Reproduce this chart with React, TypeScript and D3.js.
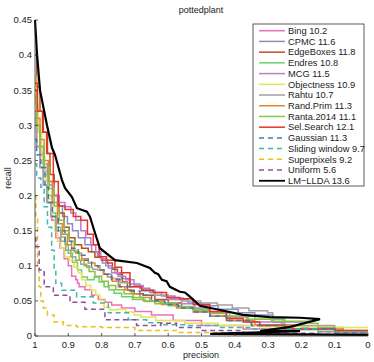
// PR curves for the pottedplant class
import React from "react";
import { scaleLinear, line, curveStep, curveLinear } from "d3";

const width = 374;
const height = 362;
const margin = { top: 20, bottom: 26, left: 35, right: 6 };

const methods = [
    "Bing 10.2",
    "CPMC 11.6",
    "EdgeBoxes 11.8",
    "Endres 10.8",
    "MCG 11.5",
    "Objectness 10.9",
    "Rahtu 10.7",
    "Rand.Prim 11.3",
    "Ranta.2014 11.1",
    "Sel.Search 12.1",
    "Gaussian 11.3",
    "Sliding window 9.7",
    "Superpixels 9.2",
    "Uniform 5.6",
    "LM\u2212LLDA 13.6",
];
const colors = [
    "#ee6fb6", "#8e8cc6", "#b4541e", "#6fcf64", "#c27ad2",
    "#e4e45a", "#a2a2a2", "#e8862c", "#8fc043", "#e8332b",
    "#3b7bb5", "#3fb9a8", "#e6c21b", "#8d4f9e", "#000000",
];
const dashed = [false, false, false, false, false, false, false, false, false, false, true, true, true, true, false];

const bingP = [1, 0.99, 0.98, 0.97, 0.955, 0.945, 0.93, 0.92, 0.905, 0.895, 0.885, 0.87, 0.875, 0.86, 0.84, 0.82, 0.8, 0.78, 0.76, 0.72, 0.68, 0.62, 0.55, 0.45, 0.3, 0];
const bingR = [0.31, 0.27, 0.24, 0.215, 0.19, 0.165, 0.14, 0.125, 0.11, 0.1, 0.085, 0.08, 0.075, 0.07, 0.066, 0.058, 0.052, 0.048, 0.044, 0.04, 0.035, 0.03, 0.022, 0.015, 0.01, 0.006];
const cpmcP = [1, 0.99, 0.98, 0.97, 0.955, 0.94, 0.925, 0.91, 0.895, 0.88, 0.86, 0.84, 0.82, 0.805, 0.79, 0.77, 0.75, 0.73, 0.7, 0.67, 0.64, 0.6, 0.56, 0.52, 0.48, 0.42, 0.36, 0.32, 0.25, 0.15, 0];
const cpmcR = [0.33, 0.3, 0.27, 0.245, 0.22, 0.2, 0.185, 0.17, 0.16, 0.15, 0.14, 0.13, 0.12, 0.112, 0.104, 0.097, 0.09, 0.082, 0.074, 0.068, 0.062, 0.057, 0.052, 0.047, 0.043, 0.038, 0.033, 0.03, 0.02, 0.012, 0.006];
const edgeP = [1, 0.99, 0.98, 0.97, 0.96, 0.95, 0.935, 0.92, 0.905, 0.89, 0.87, 0.85, 0.83, 0.81, 0.79, 0.775, 0.76, 0.745, 0.73, 0.715, 0.69, 0.66, 0.62, 0.58, 0.54, 0.5, 0.45, 0.4, 0.3, 0.2, 0];
const edgeR = [0.4, 0.355, 0.32, 0.29, 0.26, 0.23, 0.2, 0.175, 0.155, 0.14, 0.13, 0.125, 0.12, 0.112, 0.108, 0.104, 0.095, 0.088, 0.077, 0.065, 0.06, 0.058, 0.052, 0.047, 0.04, 0.035, 0.028, 0.022, 0.015, 0.01, 0.004];
const endresP = [1, 0.99, 0.98, 0.97, 0.955, 0.945, 0.93, 0.915, 0.905, 0.895, 0.88, 0.865, 0.855, 0.83, 0.815, 0.8, 0.785, 0.77, 0.755, 0.725, 0.69, 0.65, 0.6, 0.55, 0.5, 0.45, 0.38, 0.3, 0.21, 0.3, 0.15, 0];
const endresR = [0.33, 0.29, 0.26, 0.23, 0.2, 0.175, 0.155, 0.141, 0.13, 0.118, 0.105, 0.094, 0.084, 0.08, 0.084, 0.077, 0.07, 0.066, 0.061, 0.056, 0.052, 0.049, 0.047, 0.042, 0.038, 0.033, 0.028, 0.024, 0.02, 0.015, 0.009, 0.005];
const mcgP = [1, 0.99, 0.98, 0.965, 0.95, 0.935, 0.92, 0.9, 0.885, 0.87, 0.855, 0.84, 0.825, 0.81, 0.795, 0.78, 0.76, 0.74, 0.715, 0.69, 0.66, 0.62, 0.58, 0.54, 0.5, 0.45, 0.4, 0.32, 0.2, 0];
const mcgR = [0.32, 0.29, 0.26, 0.235, 0.215, 0.2, 0.19, 0.184, 0.175, 0.165, 0.15, 0.14, 0.13, 0.12, 0.11, 0.1, 0.09, 0.085, 0.08, 0.072, 0.065, 0.058, 0.052, 0.046, 0.04, 0.034, 0.027, 0.02, 0.01, 0.004];
const objP = [1, 0.995, 0.985, 0.975, 0.965, 0.955, 0.945, 0.935, 0.93, 0.915, 0.905, 0.89, 0.875, 0.865, 0.855, 0.84, 0.825, 0.81, 0.8, 0.785, 0.765, 0.74, 0.715, 0.69, 0.675, 0.6, 0.5, 0.4, 0.25, 0.1, 0];
const objR = [0.37, 0.33, 0.29, 0.255, 0.225, 0.195, 0.17, 0.15, 0.135, 0.125, 0.113, 0.108, 0.098, 0.09, 0.08, 0.072, 0.065, 0.058, 0.051, 0.041, 0.037, 0.038, 0.034, 0.03, 0.027, 0.022, 0.018, 0.015, 0.013, 0.012, 0.012];
const rahtuP = [1, 0.99, 0.98, 0.97, 0.96, 0.945, 0.93, 0.915, 0.9, 0.885, 0.87, 0.855, 0.835, 0.82, 0.805, 0.78, 0.76, 0.73, 0.7, 0.66, 0.62, 0.58, 0.53, 0.475, 0.43, 0.385, 0.33, 0.273, 0.3, 0.2, 0];
const rahtuR = [0.3, 0.27, 0.24, 0.215, 0.19, 0.17, 0.15, 0.135, 0.122, 0.113, 0.108, 0.102, 0.098, 0.095, 0.094, 0.088, 0.082, 0.076, 0.07, 0.064, 0.058, 0.054, 0.05, 0.047, 0.044, 0.04, 0.036, 0.033, 0.025, 0.015, 0.008];
const primP = [1, 0.99, 0.98, 0.965, 0.955, 0.94, 0.925, 0.91, 0.895, 0.885, 0.87, 0.85, 0.83, 0.81, 0.8, 0.79, 0.775, 0.76, 0.74, 0.72, 0.7, 0.67, 0.64, 0.6, 0.55, 0.5, 0.45, 0.38, 0.3, 0.15, 0];
const primR = [0.35, 0.31, 0.28, 0.25, 0.22, 0.19, 0.16, 0.145, 0.13, 0.122, 0.118, 0.11, 0.104, 0.1, 0.094, 0.088, 0.084, 0.078, 0.07, 0.066, 0.06, 0.055, 0.05, 0.045, 0.04, 0.034, 0.028, 0.022, 0.016, 0.01, 0.007];
const rantaP = [1, 0.99, 0.98, 0.965, 0.95, 0.935, 0.92, 0.905, 0.89, 0.875, 0.86, 0.845, 0.83, 0.81, 0.79, 0.77, 0.745, 0.72, 0.69, 0.66, 0.62, 0.58, 0.54, 0.5, 0.45, 0.4, 0.33, 0.25, 0.1, 0.2, 0];
const rantaR = [0.34, 0.3, 0.27, 0.24, 0.21, 0.185, 0.165, 0.15, 0.135, 0.12, 0.108, 0.1, 0.092, 0.085, 0.078, 0.072, 0.066, 0.06, 0.055, 0.05, 0.046, 0.043, 0.04, 0.036, 0.032, 0.028, 0.024, 0.021, 0.018, 0.012, 0.006];
const selP = [1, 0.985, 0.97, 0.955, 0.935, 0.925, 0.895, 0.875, 0.85, 0.835, 0.815, 0.8, 0.77, 0.75, 0.73, 0.7, 0.66, 0.63, 0.58, 0.55, 0.5, 0.45, 0.4, 0.35, 0.3, 0.2, 0];
const selR = [0.36, 0.32, 0.29, 0.26, 0.22, 0.185, 0.18, 0.17, 0.165, 0.145, 0.13, 0.113, 0.108, 0.098, 0.09, 0.07, 0.065, 0.062, 0.055, 0.053, 0.045, 0.035, 0.025, 0.02, 0.015, 0.01, 0.008];
const gaussP = [1, 0.99, 0.975, 0.965, 0.955, 0.94, 0.92, 0.9, 0.88, 0.86, 0.84, 0.82, 0.8, 0.78, 0.76, 0.73, 0.7, 0.67, 0.63, 0.59, 0.55, 0.5, 0.45, 0.4, 0.3, 0.2, 0];
const gaussR = [0.28, 0.258, 0.24, 0.212, 0.19, 0.17, 0.15, 0.135, 0.125, 0.115, 0.108, 0.1, 0.094, 0.088, 0.08, 0.07, 0.064, 0.058, 0.05, 0.045, 0.04, 0.034, 0.028, 0.022, 0.015, 0.01, 0.005];
const slideP = [1, 0.99, 0.975, 0.97, 0.955, 0.945, 0.94, 0.935, 0.905, 0.845, 0.805, 0.755, 0.685, 0.645, 0.59, 0.5, 0.4, 0.3, 0];
const slideR = [0.245, 0.225, 0.212, 0.184, 0.155, 0.122, 0.094, 0.075, 0.065, 0.056, 0.047, 0.033, 0.023, 0.019, 0.016, 0.015, 0.012, 0.01, 0.006];
const superP = [1, 0.995, 0.99, 0.985, 0.98, 0.97, 0.955, 0.93, 0.9, 0.85, 0.75, 0.65, 0.5, 0.3, 0];
const superR = [0.2, 0.17, 0.1, 0.07, 0.05, 0.04, 0.03, 0.02, 0.015, 0.013, 0.012, 0.008, 0.005, 0.003, 0.002];
const uniP = [1, 0.995, 0.98, 0.965, 0.925, 0.865, 0.835, 0.745, 0.645, 0.6, 0.55, 0.45, 0.3, 0];
const uniR = [0.14, 0.127, 0.094, 0.07, 0.058, 0.048, 0.038, 0.023, 0.015, 0.018, 0.012, 0.008, 0.004, 0.002];
const lldaP = [1, 0.994, 0.985, 0.964, 0.949, 0.94, 0.919, 0.91, 0.889, 0.874, 0.844, 0.835, 0.82, 0.805, 0.76, 0.694, 0.655, 0.64, 0.63, 0.619, 0.605, 0.595, 0.565, 0.55, 0.535, 0.505, 0.444, 0.375, 0.294, 0.204, 0.144, 0.234, 0.324, 0.204, 0.474, 0];
const lldaR = [0.45, 0.402, 0.35, 0.3, 0.268, 0.258, 0.222, 0.211, 0.198, 0.182, 0.177, 0.17, 0.147, 0.125, 0.108, 0.104, 0.097, 0.09, 0.088, 0.08, 0.078, 0.07, 0.063, 0.062, 0.056, 0.043, 0.037, 0.03, 0.027, 0.026, 0.024, 0.013, 0.007, 0.007, 0.003, 0.0015];

const precisions = [bingP, cpmcP, edgeP, endresP, mcgP, objP, rahtuP, primP, rantaP, selP, gaussP, slideP, superP, uniP, lldaP];
const recalls = [bingR, cpmcR, edgeR, endresR, mcgR, objR, rahtuR, primR, rantaR, selR, gaussR, slideR, superR, uniR, lldaR];

const xTicks = [1, 0.9, 0.8, 0.7, 0.6, 0.5, 0.4, 0.3, 0.2, 0.1, 0];
const yTicks = [0, 0.05, 0.1, 0.15, 0.2, 0.25, 0.3, 0.35, 0.4, 0.45];

const font = "Liberation Sans, Arial, Helvetica, sans-serif";

const App = () => {
    const xScale = scaleLinear()
        .domain([1, 0])
        .range([margin.left, width - margin.right]);
    const yScale = scaleLinear()
        .domain([0, 0.45])
        .range([height - margin.bottom, margin.top]);
    const bottom = height - margin.bottom;

    const pathFor = (i) => {
        const pts = precisions[i].map((p, j) => [p, recalls[i][j]]);
        return line()
            .x((d) => xScale(d[0]))
            .y((d) => yScale(d[1]))
            .curve(i === 14 ? curveLinear : curveStep)(pts);
    };

    const legendX = 253;
    const legendY = 24;
    const rowH = 10.72;

    return (
        <svg
            width={width}
            height={height}
            style={{ position: "absolute", left: 0, top: 0, background: "#fff" }}
            fontFamily={font}
        >
            <text x={201} y={13} textAnchor="middle" fontSize={9} fill="#222">
                pottedplant
            </text>

            {/* curves */}
            {methods.map((m, i) => (
                <path
                    key={m}
                    d={pathFor(i)}
                    fill="none"
                    stroke={colors[i]}
                    strokeWidth={i === 14 ? 2.2 : 1.5}
                    strokeDasharray={dashed[i] ? "5,3.5" : null}
                    strokeLinejoin="miter"
                />
            ))}

            {/* axes */}
            <line x1={margin.left} y1={margin.top} x2={margin.left} y2={bottom} stroke="#333" strokeWidth={0.8} />
            <line x1={margin.left} y1={bottom} x2={xScale(0)} y2={bottom} stroke="#333" strokeWidth={0.8} />
            {yTicks.map((t) => (
                <g key={"y" + t}>
                    <line x1={margin.left} x2={margin.left + 3} y1={yScale(t)} y2={yScale(t)} stroke="#333" strokeWidth={0.8} />
                    <text x={margin.left - 3} y={yScale(t) + 3.3} textAnchor="end" fontSize={9.5} fill="#222">
                        {t}
                    </text>
                </g>
            ))}
            {xTicks.map((t) => (
                <g key={"x" + t}>
                    <line x1={xScale(t)} x2={xScale(t)} y1={bottom} y2={bottom - 3} stroke="#333" strokeWidth={0.8} />
                    <text x={xScale(t)} y={bottom + 11.5} textAnchor="middle" fontSize={9.5} fill="#222">
                        {t}
                    </text>
                </g>
            ))}
            <text x={201} y={358} textAnchor="middle" fontSize={9} fill="#222">
                precision
            </text>
            <text
                textAnchor="middle"
                fontSize={9}
                fill="#222"
                transform={`translate(11,${(margin.top + bottom) / 2}) rotate(-90)`}
            >
                recall
            </text>

            {/* legend */}
            <rect x={legendX} y={legendY} width={111} height={162} fill="#fff" stroke="#333" strokeWidth={0.8} />
            {methods.map((m, i) => {
                const cy = legendY + 6.7 + i * rowH;
                return (
                    <g key={"l" + m}>
                        <line
                            x1={legendX + 6}
                            x2={legendX + 32}
                            y1={cy}
                            y2={cy}
                            stroke={colors[i]}
                            strokeWidth={i === 14 ? 1.8 : 1.5}
                            strokeDasharray={dashed[i] ? "5,4" : null}
                        />
                        <text x={legendX + 35} y={cy + 3.3} fontSize={9.3} fill="#222">
                            {m}
                        </text>
                    </g>
                );
            })}
        </svg>
    );
};

export default App;
